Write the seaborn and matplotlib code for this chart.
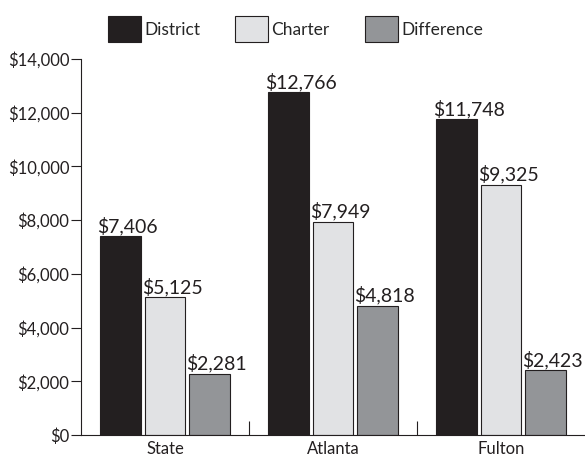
import matplotlib
matplotlib.use("Agg")
import matplotlib.pyplot as plt
import seaborn as sns
import pandas as pd
from matplotlib.ticker import FuncFormatter, FixedLocator
from matplotlib.transforms import offset_copy

# data
regions = ["State", "Atlanta", "Fulton"]
series = ["District", "Charter", "Difference"]
district = [7406, 12766, 11748]
charter = [5125, 7949, 9325]
difference = [2281, 4818, 2423]
colors = ["#231f20", "#e1e2e4", "#939598"]

df = pd.DataFrame({
    "region": regions * 3,
    "series": [s for s in series for _ in regions],
    "value": district + charter + difference,
})

sns.set_style("white")
plt.rcParams["font.family"] = ["Lato", "DejaVu Sans"]

fig = plt.figure(figsize=(5.85, 4.62), dpi=100)
ax = fig.add_axes([81 / 585, 27 / 462, 1 - 81 / 585, 376 / 462])

sns.barplot(data=df, x="region", y="value", hue="series", order=regions,
            hue_order=series, palette=colors, width=0.8, gap=0.09,
            edgecolor="#231f20", linewidth=0.8, saturation=1, ax=ax, legend=False)

# value labels: start just left of each bar, baseline a few px above it
for cont in ax.containers:
    for bar, v in zip(cont.patches, cont.datavalues):
        tr = offset_copy(ax.transData, fig=fig, x=-3, y=4, units="dots")
        ax.text(bar.get_x(), bar.get_height(), f"${v:,.0f}", transform=tr,
                ha="left", va="baseline", fontsize=14, color="#231f20")

ax.set_ylim(0, 14000)
ax.set_xlim(-0.5, 2.5)
ax.set_yticks(range(0, 14001, 2000))
ax.yaxis.set_major_formatter(FuncFormatter(lambda v, p: f"${v:,.0f}"))
ax.set_xlabel("")
ax.set_ylabel("")
ax.tick_params(axis="y", direction="out", length=7, width=0.8, color="#231f20",
               labelsize=12, labelcolor="#231f20", left=True, pad=1.5)
ax.tick_params(axis="x", which="major", length=0, labelsize=12,
               labelcolor="#231f20", pad=4)
ax.xaxis.set_minor_locator(FixedLocator([0.5, 1.5]))
ax.tick_params(axis="x", which="minor", direction="in", length=10, width=0.8,
               color="#231f20", bottom=True)

for s in ["top", "right"]:
    ax.spines[s].set_visible(False)
for s in ["left", "bottom"]:
    ax.spines[s].set_color("#231f20")
    ax.spines[s].set_linewidth(0.8)

handles = [plt.Rectangle((0, 0), 1, 1, facecolor=c, edgecolor="#231f20", linewidth=0.8)
           for c in colors]
fig.legend(handles, series, loc="center", bbox_to_anchor=(0.505, 1 - 29 / 462),
           ncol=3, frameon=False, fontsize=12.5, handlelength=1.9,
           handleheight=1.9, handletextpad=0.2, columnspacing=2.0)

fig.savefig("out.png", dpi=100)
